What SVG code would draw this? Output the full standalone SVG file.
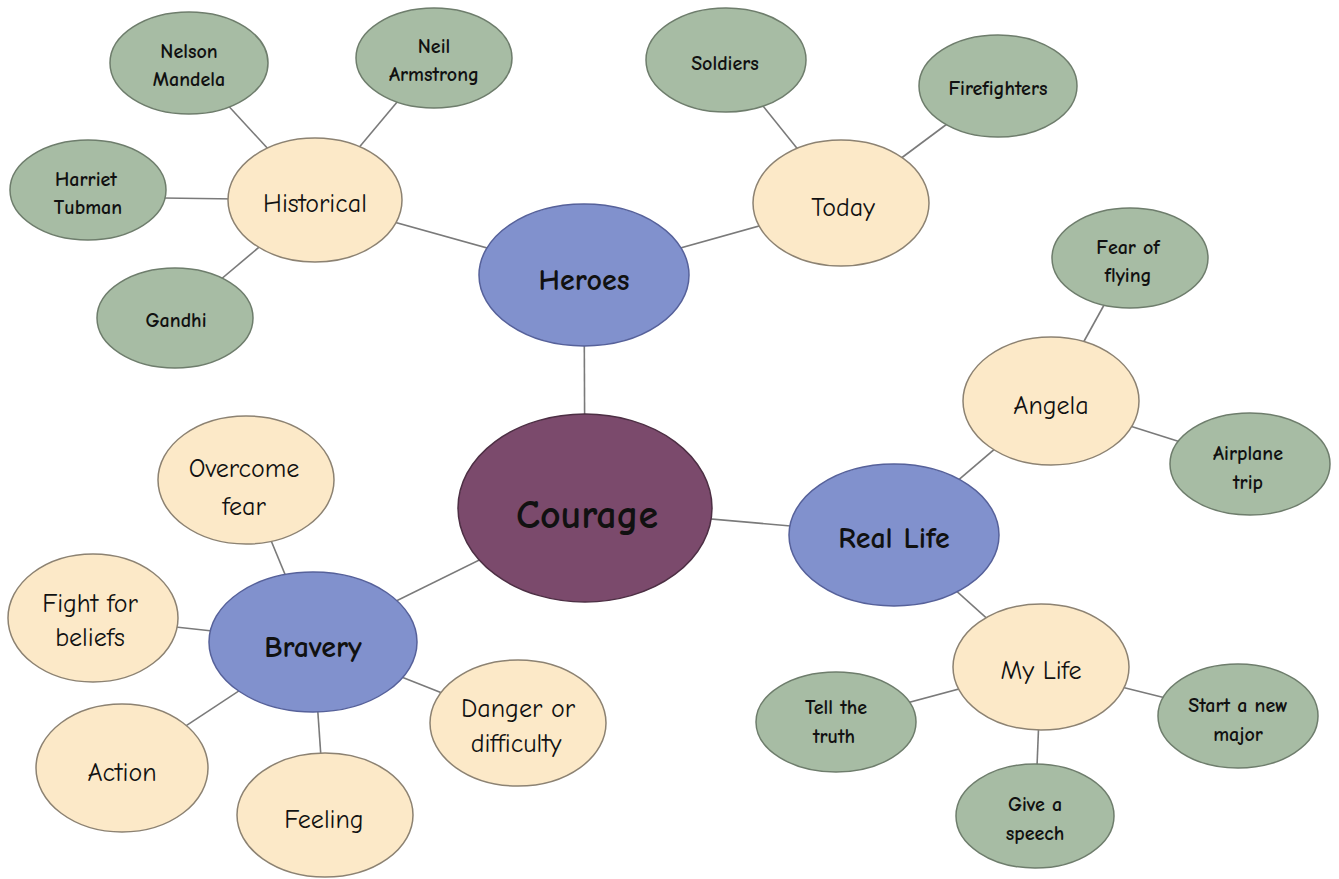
<svg xmlns="http://www.w3.org/2000/svg" width="1339" height="879" viewBox="0 0 1339 879">
<style>
.g{fill:#a7bca4;stroke:#6e7d6c;stroke-width:1.5}
.c{fill:#fce9c8;stroke:#8c8272;stroke-width:1.5}
.b{fill:#8191cd;stroke:#56619a;stroke-width:1.5}
.m{fill:#7b4a6c;stroke:#4d2f44;stroke-width:1.5}
text{font-family:"Comic Neue","Noto Sans","Liberation Sans",sans-serif;fill:#111;text-anchor:middle}
.tg{font-size:20px;font-weight:bold}
.tc{font-size:26px}
.tb{font-size:30px;font-weight:bold}
.tm{font-size:40px;font-weight:bold}
#connectors line{stroke:#7a7a7a;stroke-width:1.6}
</style>
<rect width="1339" height="879" fill="#ffffff"/>
<g id="connectors">
<line x1="585" y1="508" x2="584" y2="275"/>
<line x1="585" y1="508" x2="894" y2="535"/>
<line x1="585" y1="508" x2="313" y2="642"/>
<line x1="584" y1="275" x2="315" y2="200"/>
<line x1="584" y1="275" x2="841" y2="203"/>
<line x1="315" y1="200" x2="189" y2="63"/>
<line x1="315" y1="200" x2="434" y2="58"/>
<line x1="315" y1="200" x2="88" y2="197"/>
<line x1="315" y1="200" x2="175" y2="318"/>
<line x1="841" y1="203" x2="726" y2="60"/>
<line x1="841" y1="203" x2="998" y2="86"/>
<line x1="894" y1="535" x2="1051" y2="401"/>
<line x1="894" y1="535" x2="1041" y2="667"/>
<line x1="1051" y1="401" x2="1130" y2="258"/>
<line x1="1051" y1="401" x2="1250" y2="464"/>
<line x1="1041" y1="667" x2="836" y2="722"/>
<line x1="1041" y1="667" x2="1238" y2="716"/>
<line x1="1041" y1="667" x2="1035" y2="816"/>
<line x1="313" y1="642" x2="246" y2="480"/>
<line x1="313" y1="642" x2="93" y2="618"/>
<line x1="313" y1="642" x2="122" y2="768"/>
<line x1="313" y1="642" x2="325" y2="815"/>
<line x1="313" y1="642" x2="518" y2="723"/>
</g>
<g id="courage"><ellipse class="m" cx="585" cy="508" rx="127" ry="94"/><text class="tm" x="587" y="528">Courage</text></g>
<g id="heroes"><ellipse class="b" cx="584" cy="275" rx="105" ry="71"/><text class="tb" x="584" y="290">Heroes</text></g>
<g id="reallife"><ellipse class="b" cx="894" cy="535" rx="105" ry="71"/><text class="tb" x="894" y="548">Real Life</text></g>
<g id="bravery"><ellipse class="b" cx="313" cy="642" rx="104" ry="70"/><text class="tb" x="313" y="657">Bravery</text></g>
<g id="historical"><ellipse class="c" cx="315" cy="200" rx="87" ry="62"/><text class="tc" x="315" y="212">Historical</text></g>
<g id="today"><ellipse class="c" cx="841" cy="203" rx="88" ry="63"/><text class="tc" x="843" y="216">Today</text></g>
<g id="angela"><ellipse class="c" cx="1051" cy="401" rx="88" ry="64"/><text class="tc" x="1051" y="414">Angela</text></g>
<g id="mylife"><ellipse class="c" cx="1041" cy="667" rx="88" ry="63"/><text class="tc" x="1041" y="679">My Life</text></g>
<g id="overcome"><ellipse class="c" cx="246" cy="480" rx="88" ry="64"/><text class="tc" x="244" y="477">Overcome</text><text class="tc" x="244" y="515">fear</text></g>
<g id="fight"><ellipse class="c" cx="93" cy="618" rx="85" ry="64"/><text class="tc" x="90" y="612">Fight for</text><text class="tc" x="90" y="646">beliefs</text></g>
<g id="action"><ellipse class="c" cx="122" cy="768" rx="86" ry="64"/><text class="tc" x="122" y="781">Action</text></g>
<g id="feeling"><ellipse class="c" cx="325" cy="815" rx="88" ry="62"/><text class="tc" x="324" y="828">Feeling</text></g>
<g id="danger"><ellipse class="c" cx="518" cy="723" rx="88" ry="63"/><text class="tc" x="518" y="717">Danger or</text><text class="tc" x="516" y="752">difficulty</text></g>
<g id="nelson"><ellipse class="g" cx="189" cy="63" rx="79" ry="51"/><text class="tg" x="189" y="58">Nelson</text><text class="tg" x="189" y="86">Mandela</text></g>
<g id="neil"><ellipse class="g" cx="434" cy="58" rx="78" ry="50"/><text class="tg" x="434" y="53">Neil</text><text class="tg" x="434" y="81">Armstrong</text></g>
<g id="harriet"><ellipse class="g" cx="88" cy="190" rx="78" ry="50"/><text class="tg" x="86" y="186">Harriet</text><text class="tg" x="88" y="214">Tubman</text></g>
<g id="gandhi"><ellipse class="g" cx="175" cy="318" rx="78" ry="50"/><text class="tg" x="176" y="327">Gandhi</text></g>
<g id="soldiers"><ellipse class="g" cx="726" cy="60" rx="80" ry="52"/><text class="tg" x="725" y="70">Soldiers</text></g>
<g id="firefighters"><ellipse class="g" cx="998" cy="86" rx="79" ry="51"/><text class="tg" x="998" y="95">Firefighters</text></g>
<g id="fear"><ellipse class="g" cx="1130" cy="258" rx="78" ry="50"/><text class="tg" x="1128" y="254">Fear of</text><text class="tg" x="1128" y="282">flying</text></g>
<g id="airplane"><ellipse class="g" cx="1250" cy="464" rx="80" ry="51"/><text class="tg" x="1248" y="460">Airplane</text><text class="tg" x="1248" y="489">trip</text></g>
<g id="tell"><ellipse class="g" cx="836" cy="722" rx="80" ry="50"/><text class="tg" x="836" y="714">Tell the</text><text class="tg" x="834" y="743">truth</text></g>
<g id="start"><ellipse class="g" cx="1238" cy="716" rx="80" ry="52"/><text class="tg" x="1238" y="712">Start a new</text><text class="tg" x="1238" y="741">major</text></g>
<g id="speech"><ellipse class="g" cx="1035" cy="816" rx="79" ry="52"/><text class="tg" x="1035" y="811">Give a</text><text class="tg" x="1035" y="840">speech</text></g>
</svg>
